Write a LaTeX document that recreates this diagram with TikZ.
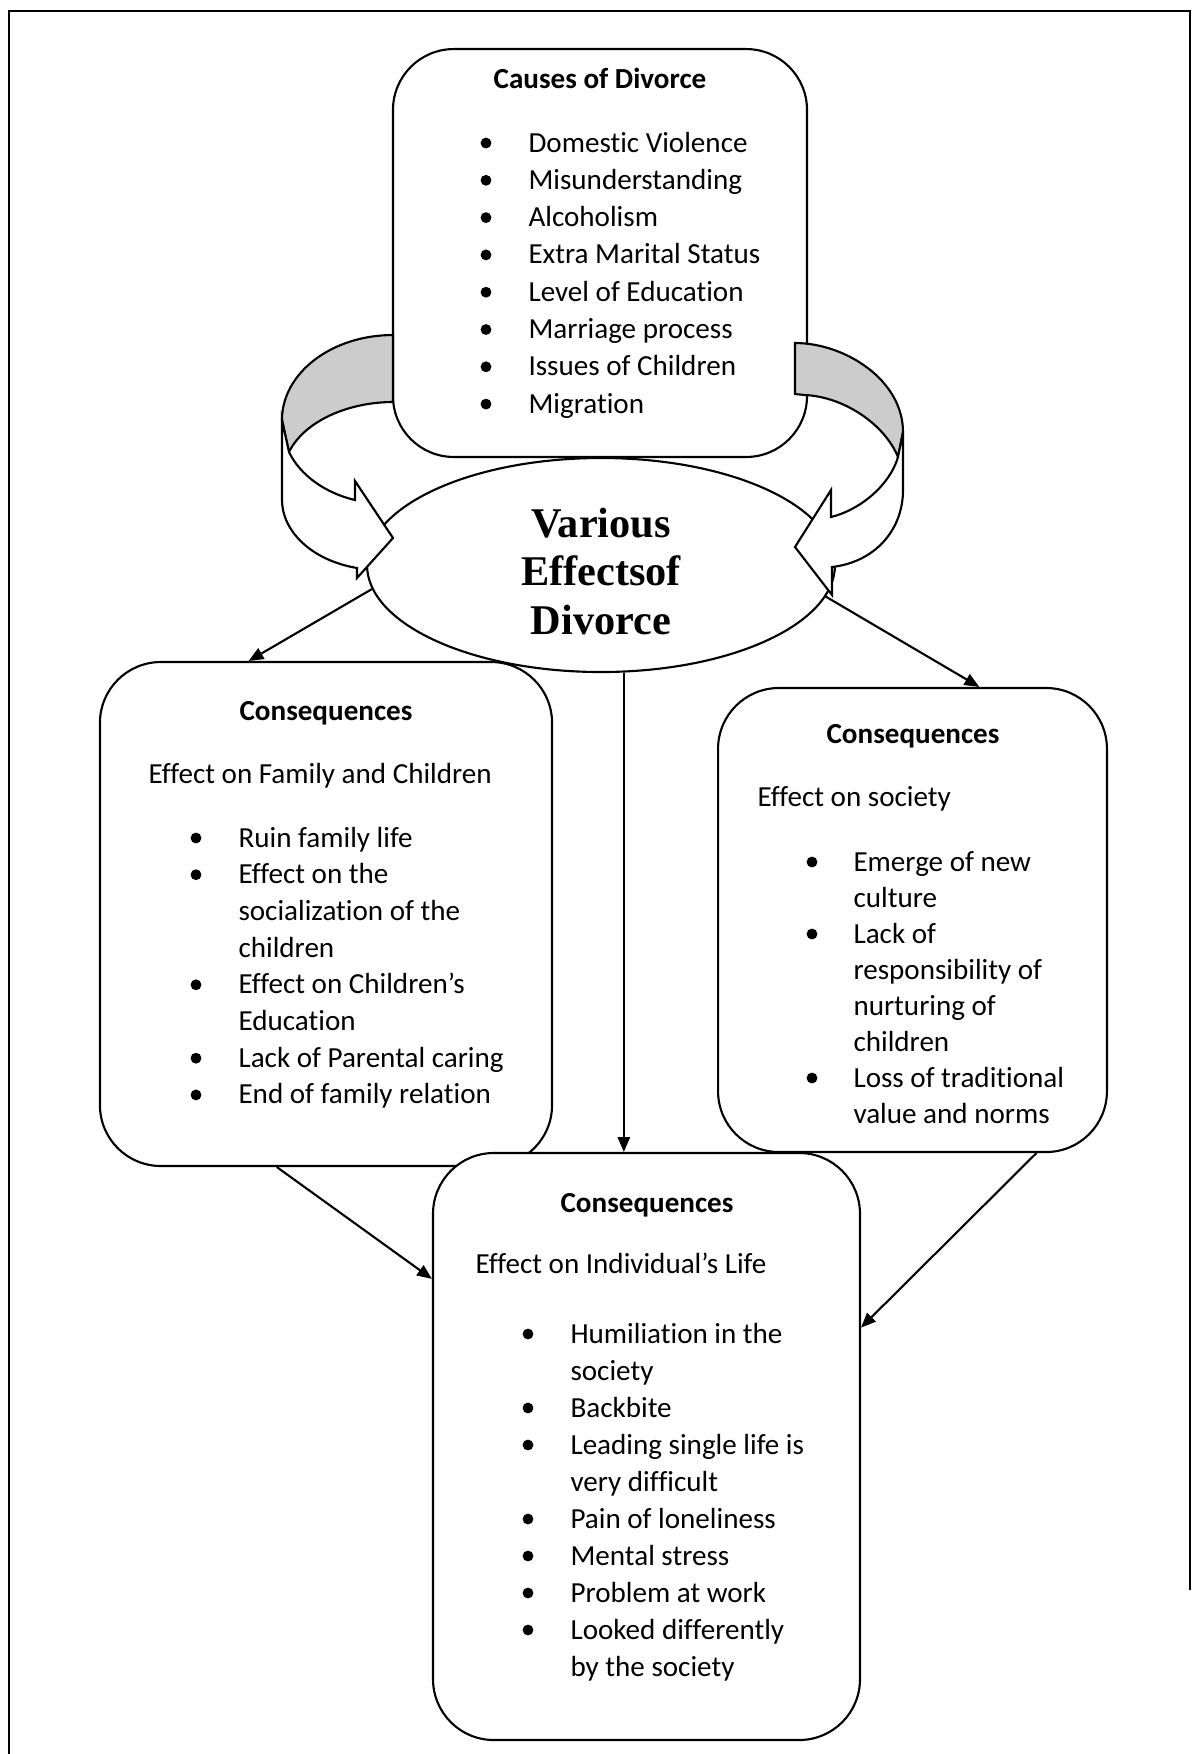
\documentclass[tikz,border=0pt]{standalone}
\usepackage{fontspec}
\setmainfont{Carlito}[Ligatures={NoCommon}]
\newfontfamily\tnrfont{Liberation Serif}
\usetikzlibrary{shapes.geometric,arrows.meta}
\definecolor{bandgray}{RGB}{204,204,204}
\tikzset{
  frame/.style={line width=1.1pt},
  boxstyle/.style={draw, line width=0.8pt, rounded corners=23pt, inner sep=0pt, rectangle},
  band/.style={fill=bandgray, draw, line width=0.8pt, line join=miter},
  front/.style={fill=white, draw, line width=0.8pt, line join=miter},
  conn/.style={line width=0.8pt, -{Triangle[length=5.6pt,width=4.6pt]}},
  bul/.style={circle, fill, inner sep=0pt, minimum size=4.1pt},
  txt/.style={anchor=base west, inner sep=0pt, font=\fontsize{11pt}{14pt}\selectfont},
  ttl/.style={anchor=base, inner sep=0pt, font=\bfseries\fontsize{11pt}{14pt}\selectfont},
  big/.style={anchor=base, inner sep=0pt, font=\tnrfont\bfseries\fontsize{16pt}{18pt}\selectfont}
}
\newcommand{\bitem}[5]{%
  \node[bul] (#1b) at (#2,#4-9) {};
  \node[txt] (#1) at (#3,#4) {#5};}
\begin{document}
\begin{tikzpicture}[x=0.378pt,y=-0.378pt]
\useasboundingbox (0,0) rectangle (1197,1754);
% outer frame
\draw[frame] (9,1754) -- (9,11) -- (1190,11) -- (1190,1590);

% top box
\node[boxstyle, minimum width=156.5pt, minimum height=154.2pt] (cbox) at (600,253) {};
% ellipse
\node[ellipse, draw, line width=0.8pt, fill=white, inner sep=0pt, minimum width=176.9pt, minimum height=80.9pt] (ell) at (601,565) {};

% left curved arrow
\filldraw[band] (393,335) .. controls (331.7,335) and (282,373) .. (282,420) -- (289,452) .. controls (305,420) and (350,402) .. (393,402) -- cycle;
\filldraw[front] (282,420) -- (282,500) .. controls (282,530) and (310,560) .. (357,568) -- (357,578) -- (393,538) -- (355,481) -- (355,500) .. controls (325,493) and (300,475) .. (289,452) -- cycle;
% right curved arrow
\filldraw[band] (795,343) .. controls (845,343) and (903,380) .. (903,432) -- (898,457) .. controls (885,425) and (845,397) .. (805,395) -- (795,394) -- cycle;
\filldraw[front] (903,432) -- (903,490) .. controls (903,530) and (875,562) .. (832,567) -- (832,595) -- (795,547) -- (831,490) -- (831,517) .. controls (860,510) and (890,485) .. (898,457) -- cycle;

% consequence boxes
\node[boxstyle, minimum width=170.9pt, minimum height=190.5pt] (lbox) at (326,914) {};
\node[boxstyle, minimum width=147.0pt, minimum height=175.4pt] (rbox) at (912.5,920) {};
\node[boxstyle, fill=white, minimum width=161.4pt, minimum height=221.9pt] (bbox) at (646.5,1446.5) {};

% connectors
\draw[conn] (ell.186.2) -- (lbox.107.8);
\draw[conn] (ell.-8.1) -- (rbox.74.5);
\draw[conn] (ell.-78.4) -- (ell.-78.4 |- bbox.north);
\draw[conn] (lbox.259.7) -- (bbox.142.4);
\draw[conn] (rbox.-62.55) -- (bbox.29.85);

% texts: top box
\node[ttl] (ctitle) at (600,88) {Causes of Divorce};
\bitem{c1}{486}{528}{152}{Domestic Violence}
\bitem{c2}{486}{528}{189.3}{Misunderstanding}
\bitem{c3}{486}{528}{226.6}{Alcoholism}
\bitem{c4}{486}{528}{263.9}{Extra Marital Status}
\bitem{c5}{486}{528}{301.2}{Level of Education}
\bitem{c6}{486}{528}{338.5}{Marriage process}
\bitem{c7}{486}{528}{375.8}{Issues of Children}
\bitem{c8}{486}{528}{413.1}{Migration}

% ellipse text
\node[big] (e1) at (601,537) {Various};
\node[big] (e2) at (601,585) {Effectsof};
\node[big] (e3) at (601,634) {Divorce};

% left box text
\node[ttl] (ltitle) at (326,720) {Consequences};
\node[txt] (lsub) at (148,783) {Effect on Family and Children};
\bitem{l1}{196}{238}{847}{Ruin family life}
\bitem{l2}{196}{238}{883.7}{Effect on the}
\node[txt] (l2b) at (238,920.4) {socialization of the};
\node[txt] (l2c) at (238,957.1) {children};
\bitem{l3}{196}{238}{993.8}{Effect on Children’s}
\node[txt] (l3b) at (238,1030.5) {Education};
\bitem{l4}{196}{238}{1067.2}{Lack of Parental caring}
\bitem{l5}{196}{238}{1103.9}{End of family relation}

% right box text
\node[ttl] (rtitle) at (913,743) {Consequences};
\node[txt] (rsub) at (757,806) {Effect on society};
\bitem{r1}{812}{853}{871}{Emerge of new}
\node[txt] (r1b) at (853,907) {culture};
\bitem{r2}{812}{853}{943}{Lack of}
\node[txt] (r2b) at (853,979) {responsibility of};
\node[txt] (r2c) at (853,1015) {nurturing of};
\node[txt] (r2d) at (853,1051) {children};
\bitem{r3}{812}{853}{1087}{Loss of traditional}
\node[txt] (r3b) at (853,1123) {value and norms};

% bottom box text
\node[ttl] (btitle) at (647,1212) {Consequences};
\node[txt] (bsub) at (475,1273) {Effect on Individual’s Life};
\bitem{b1}{528}{570}{1343}{Humiliation in the}
\node[txt] (b1b) at (570,1380) {society};
\bitem{b2}{528}{570}{1417}{Backbite}
\bitem{b3}{528}{570}{1454}{Leading single life is}
\node[txt] (b3b) at (570,1491) {very difficult};
\bitem{b4}{528}{570}{1528}{Pain of loneliness}
\bitem{b5}{528}{570}{1565}{Mental stress}
\bitem{b6}{528}{570}{1602}{Problem at work}
\bitem{b7}{528}{570}{1639}{Looked differently}
\node[txt] (b7b) at (570,1676) {by the society};
\end{tikzpicture}
\end{document}
